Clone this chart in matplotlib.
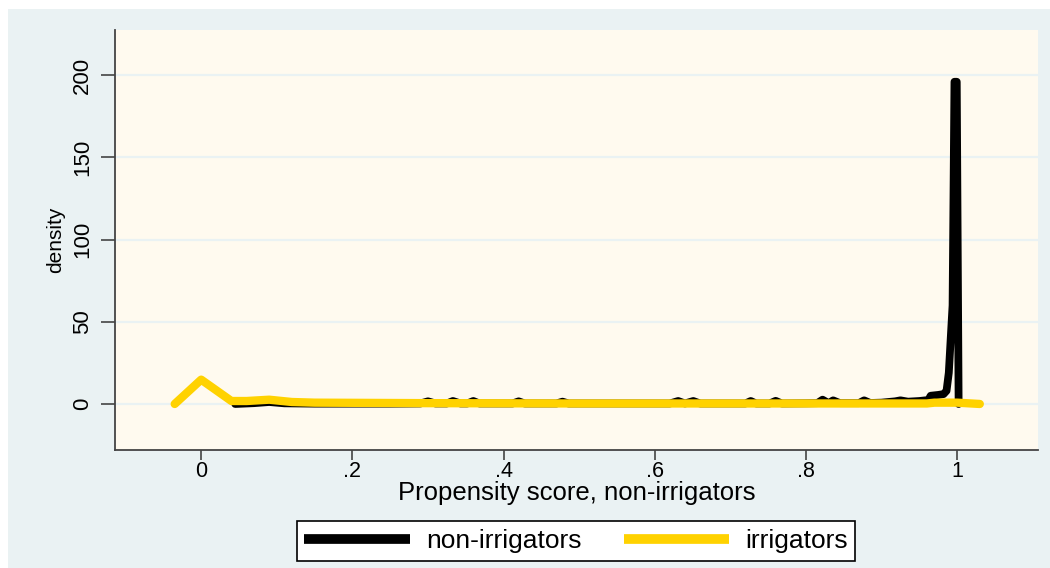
import matplotlib
matplotlib.use("Agg")
import matplotlib.pyplot as plt
from matplotlib.patches import Rectangle

plt.rcParams['font.family'] = ['Liberation Sans', 'DejaVu Sans']

# Non-irrigators kernel density (propensity score, density)
nonirr_x = [0.045, 0.07, 0.09, 0.11, 0.15, 0.20, 0.25, 0.29, 0.30, 0.31, 0.325, 0.333, 0.343,
            0.352, 0.36, 0.368, 0.40, 0.412, 0.42, 0.428, 0.47, 0.478, 0.486, 0.55, 0.62, 0.631,
            0.64, 0.651, 0.66, 0.72, 0.727, 0.734, 0.752, 0.76, 0.768, 0.80, 0.815, 0.822, 0.83,
            0.836, 0.845, 0.87, 0.877, 0.885, 0.90, 0.918, 0.925, 0.935, 0.95, 0.962, 0.965,
            0.975, 0.982, 0.986, 0.989, 0.994, 0.9965, 0.9995, 1.002]
nonirr_y = [0.0, 0.5, 1.2, 0.4, 0.2, 0.2, 0.2, 0.3, 1.6, 0.3, 0.3, 1.8, 0.3,
            0.3, 1.8, 0.3, 0.3, 0.3, 1.6, 0.3, 0.3, 1.4, 0.3, 0.3, 0.3, 1.8,
            0.3, 1.8, 0.3, 0.3, 1.8, 0.3, 0.3, 1.9, 0.3, 0.4, 0.5, 2.6, 0.5,
            2.2, 0.5, 0.5, 2.2, 0.6, 0.8, 1.6, 2.2, 1.4, 1.8, 2.4, 5.0,
            5.5, 6.0, 8.0, 19.0, 60.0, 196.0, 196.0, 0.0]

# Irrigators kernel density
irr_x = [-0.035, 0.0, 0.04, 0.06, 0.09, 0.12, 0.15, 0.20, 0.30, 0.40, 0.50, 0.60, 0.70,
         0.80, 0.90, 0.96, 0.97, 1.00, 1.03]
irr_y = [0.0, 14.8, 1.8, 1.8, 2.6, 1.2, 0.8, 0.7, 0.5, 0.4, 0.3, 0.3, 0.3,
         0.3, 0.3, 0.3, 0.8, 0.8, 0.0]

xticks = [0, 0.2, 0.4, 0.6, 0.8, 1.0]
xticklabels = ['0', '.2', '.4', '.6', '.8', '1']
yticks = [0, 50, 100, 150, 200]
yticklabels = ['0', '50', '100', '150', '200']

W, H = 1050, 568
fig = plt.figure(figsize=(W / 100, H / 100), dpi=100, facecolor='white')
fig.patches.append(Rectangle((8 / W, 0), 1 - 8 / W, 1 - 9 / H, transform=fig.transFigure,
                             facecolor='#EAF2F3', edgecolor='none', zorder=-5))

ax = fig.add_axes([115 / W, 1 - 450 / H, (1038 - 115) / W, (450 - 30) / H])
ax.set_facecolor('#FFFAEF')
ax.set_xlim(-0.114, 1.107)
ax.set_ylim(-28, 227.5)

ax.plot(nonirr_x, nonirr_y, color='black', lw=5.6, solid_capstyle='round',
        solid_joinstyle='round', label='non-irrigators', zorder=3)
ax.plot(irr_x, irr_y, color='#FFD200', lw=6.0, solid_capstyle='round',
        solid_joinstyle='round', label='irrigators', zorder=4)

ax.set_yticks(yticks)
ax.set_yticklabels(yticklabels, rotation=90, va='center', fontsize=16)
ax.set_xticks(xticks)
ax.set_xticklabels(xticklabels, fontsize=15.5)
ax.yaxis.grid(True, color='#EAF2F3', lw=1.6, zorder=1)
ax.set_axisbelow(True)
ax.tick_params(axis='y', length=10, width=1.2, color='#444444', pad=6)
ax.tick_params(axis='x', length=7, width=1.2, color='#444444', pad=1)
for s in ['top', 'right']:
    ax.spines[s].set_visible(False)
for s in ['left', 'bottom']:
    ax.spines[s].set_color('#444444')
    ax.spines[s].set_linewidth(1.3)

ax.set_ylabel('density', fontsize=15, labelpad=5)
ax.set_xlabel('Propensity score, non-irrigators', fontsize=18.5, labelpad=-1)

leg = fig.legend(loc='center', bbox_to_anchor=(576 / W, 1 - 541 / H), ncol=2,
                 fontsize=19, frameon=True, fancybox=False, edgecolor='black',
                 framealpha=1, handlelength=4.0, handletextpad=0.6, columnspacing=1.6,
                 borderpad=0.3, borderaxespad=0)
leg.get_frame().set_linewidth(1.2)
leg.get_frame().set_facecolor('white')
for lh in leg.get_lines():
    lh.set_linewidth(7)
    lh.set_solid_capstyle('butt')

fig.savefig('out.png', dpi=100, facecolor='white')
